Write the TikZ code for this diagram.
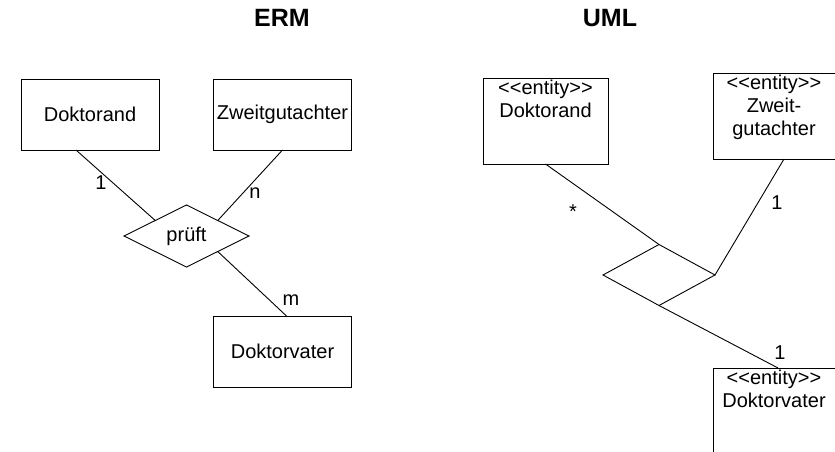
\documentclass[tikz,border=0pt]{standalone}
\usepackage{fontspec}
\setmainfont{Liberation Sans}
\usetikzlibrary{shapes.geometric,positioning}

\begin{document}
\begin{tikzpicture}[x=1pt,y=-1pt,
  entity/.style={rectangle,draw=black,line width=0.9pt,minimum width=138pt,minimum height=71pt,inner sep=0,outer sep=0,font=\fontsize{20}{23}\selectfont},
  rel/.style={diamond,draw=black,line width=0.9pt,inner sep=0,outer sep=0,font=\fontsize{20}{23}\selectfont},
  umlbox/.style={rectangle,draw=black,line width=0.9pt,anchor=north west,inner sep=0,outer sep=0},
  stereo/.style={anchor=north,align=center,inner sep=2pt,font=\fontsize{20}{23}\selectfont},
  card/.style={inner sep=0,font=\fontsize{20}{23}\selectfont},
  title/.style={inner sep=0,font=\fontsize{25}{28}\selectfont\bfseries},
  conn/.style={line width=0.9pt}]
\useasboundingbox (0,0) rectangle (835,452);
\clip (0,0) rectangle (835,452);
% titles
\node[title] (term) at (282,18) {ERM};
\node[title] (tuml) at (610,18) {UML};
% ERM side
\node[entity] (ed) at (90,114.5) {Doktorand};
\node[entity] (ez) at (282.5,114.5) {Zweitgutachter};
\node[entity] (ev) at (282.5,351.5) {Doktorvater};
\node[rel,minimum width=125pt,minimum height=62pt] (pr) at (186.5,236) {prüft};
\draw[conn] ([xshift=-14pt]ed.south) -- (pr.north west);
\draw[conn] (ez.south) -- (pr.north east);
\draw[conn] (pr.south east) -- ([xshift=4pt]ev.north);
\node[card] (c1) at (101,183) {1};
\node[card] (cn) at (255,193) {n};
\node[card] (cm) at (291,300) {m};
% UML side
\node[umlbox,minimum width=125pt,minimum height=86pt] (ud) at (483,78) {};
\node[umlbox,minimum width=150pt,minimum height=86pt] (uz) at (713,73) {};
\node[umlbox,minimum width=150pt,minimum height=100pt] (uv) at (713,368) {};
\node[stereo] (udt) at (ud.north) {<{}<entity>{}>\\Doktorand};
\node[stereo,text depth=0pt] (uzt) at ([xshift=61pt]uz.north west) {<{}<entity>{}>\\Zweit-\\gutachter};
\node[stereo] (uvt) at ([xshift=61pt]uv.north west) {<{}<entity>{}>\\Doktorvater};
\node[rel,minimum width=112pt,minimum height=61pt] (ur) at (659,275) {};
\draw[conn] (ud.south) -- (ur.north);
\draw[conn] ([xshift=71pt]uz.south west) -- (ur.east);
\draw[conn] (ur.south) -- ([xshift=65pt]uv.north west);
\node[card] (cs) at (573,211.5) {*};
\node[card] (cz) at (777,203) {1};
\node[card] (cv) at (780,353) {1};
\end{tikzpicture}
\end{document}
